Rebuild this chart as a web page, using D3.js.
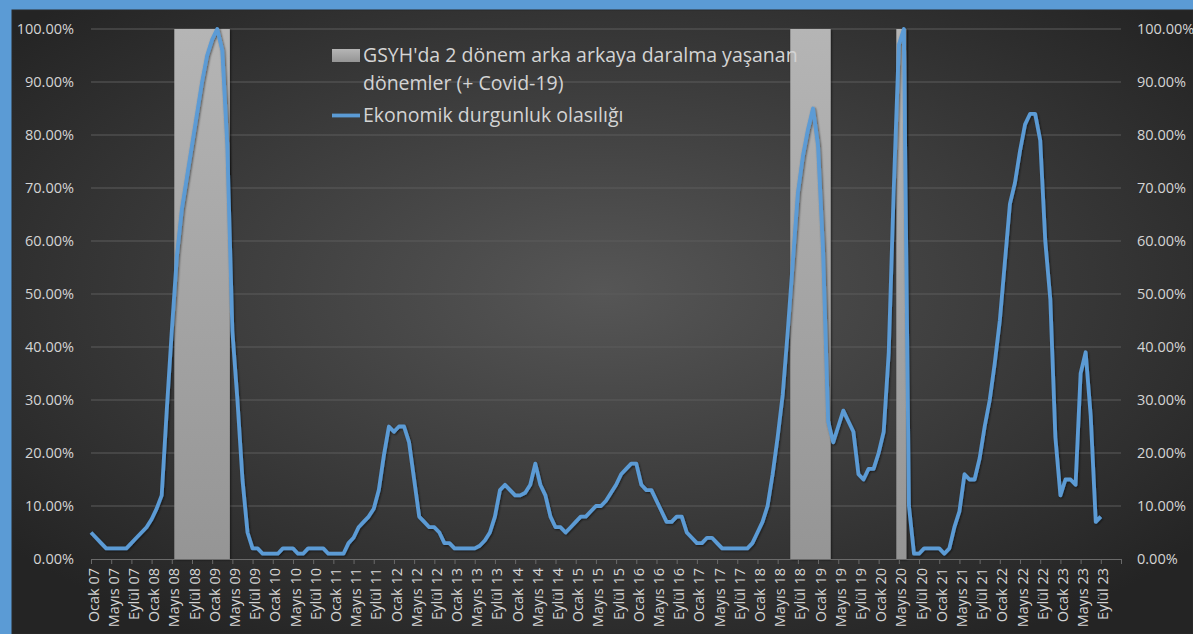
<!DOCTYPE html>
<html>
<head>
<meta charset="utf-8">
<script src="https://cdn.jsdelivr.net/npm/d3@7"></script>
<style>
  html, body { margin: 0; padding: 0; background: #5b9bd5; }
  svg { display: block; }
</style>
</head>
<body>
<div id="chart"></div>
<script>
// month names used for the category axis
const monthNames = ["Ocak", "Şubat", "Mart", "Nisan", "Mayıs", "Haziran",
  "Temmuz", "Ağustos", "Eylül", "Ekim", "Kasım", "Aralık"];
const firstYear = 2007;
const lastYear = 2023;

// recession probability, monthly from Ocak 07 to Eylül 23 (percent)
const probability = [
  5, 4, 3, 2, 2, 2, 2, 2, 3, 4,
  5, 6, 7.5, 9.5, 12, 28, 43, 57, 66, 72,
  78, 84, 90, 95, 98, 100, 96, 78, 43, 30,
  15, 5, 2, 2, 1, 1, 1, 1, 2, 2,
  2, 1, 1, 2, 2, 2, 2, 1, 1, 1,
  1, 3, 4, 6, 7, 8, 9.5, 13, 19.5, 25,
  24, 25, 25, 22, 15, 8, 7, 6, 6, 5,
  3, 3, 2, 2, 2, 2, 2, 2.5, 3.5, 5,
  8, 13, 14, 13, 12, 12, 12.5, 14, 18, 14,
  12, 8, 6, 6, 5, 6, 7, 8, 8, 9,
  10, 10, 11, 12.5, 14, 16, 17, 18, 18, 14,
  13, 13, 11, 9, 7, 7, 8, 8, 5, 4,
  3, 3, 4, 4, 3, 2, 2, 2, 2, 2,
  2, 3, 5, 7, 10, 16, 23, 31, 43, 56,
  69, 76, 81, 85, 78, 58, 26, 22, 25, 28,
  26, 24, 16, 15, 17, 17, 20, 24, 39, 70,
  97, 100, 10, 1, 1, 2, 2, 2, 2, 1,
  2, 6, 9, 16, 15, 15, 19, 25, 30, 37,
  45, 56, 67, 71, 77, 82, 84, 84, 79, 60,
  49, 23, 12, 15, 15, 14, 35, 39, 27, 7,
  8
];

// shaded periods: two quarters of GDP contraction in a row (+ Covid-19)
const recessionStart = ["Haziran 08", "Ağustos 18", "Mayıs 20"];
const recessionEnd = ["Nisan 09", "Mart 19", "Haziran 20"];

const yTicks = [0, 0.1, 0.2, 0.3, 0.4, 0.5, 0.6, 0.7, 0.8, 0.9, 1.0];
const legendLabels = ["GSYH'da 2 dönem arka arkaya daralma yaşanan", "dönemler (+ Covid-19)", "Ekonomik durgunluk olasılığı"];

// categories: every month of the years in the chart
const categories = [];
for (let y = firstYear; y <= lastYear; y++) {
  monthNames.forEach(m => categories.push(m + " " + String(y).slice(2)));
}

const W = 1193, H = 634;
const svg = d3.select("#chart").append("svg")
  .attr("width", W)
  .attr("height", H);

const defs = svg.append("defs");
const bg = defs.append("radialGradient")
  .attr("id", "bg")
  .attr("cx", "50%").attr("cy", "45%").attr("r", "65%");
bg.append("stop").attr("offset", "0%").attr("stop-color", "#565656");
bg.append("stop").attr("offset", "100%").attr("stop-color", "#242424");

const shadeGrad = defs.append("linearGradient")
  .attr("id", "shade")
  .attr("x1", 0).attr("y1", 0).attr("x2", 0).attr("y2", 1);
shadeGrad.append("stop").attr("offset", "0%").attr("stop-color", "#b5b5b5");
shadeGrad.append("stop").attr("offset", "100%").attr("stop-color", "#959595");

const shadow = defs.append("filter")
  .attr("id", "shadow")
  .attr("x", "-20%").attr("y", "-20%").attr("width", "140%").attr("height", "140%");
shadow.append("feDropShadow")
  .attr("dx", 1).attr("dy", 1).attr("stdDeviation", 1.2)
  .attr("flood-color", "#000").attr("flood-opacity", 0.55);

// blue frame + dark chart area
svg.append("rect").attr("width", W).attr("height", H).attr("fill", "#5b9bd5");
svg.append("rect")
  .attr("x", 12).attr("y", 10)
  .attr("width", W - 12).attr("height", H - 10)
  .attr("fill", "url(#bg)")
  .attr("stroke", "#2a2a2a");

const x = d3.scaleLinear()
  .domain([0, 204])
  .range([91, 1121]);
const y = d3.scaleLinear()
  .domain([0, 1])
  .range([559, 29]);

const font = "'Open Sans', sans-serif";
const textColor = "#d4d4d4";

// gridlines
svg.append("g")
  .attr("class", "grid")
  .selectAll("line")
  .data(yTicks.slice(1))
  .enter().append("line")
  .attr("x1", x(0)).attr("x2", x(204))
  .attr("y1", d => y(d)).attr("y2", d => y(d))
  .style("stroke", "#5c5c5c")
  .style("stroke-width", "1px");

// recession shading
const idx = label => categories.indexOf(label);
svg.append("g")
  .attr("class", "shades")
  .selectAll("rect")
  .data(recessionStart.map((s, i) => [idx(s), idx(recessionEnd[i])]))
  .enter().append("rect")
  .attr("x", d => x(d[0] - 0.5))
  .attr("width", d => x(d[1] + 0.5) - x(d[0] - 0.5))
  .attr("y", y(1))
  .attr("height", y(0) - y(1))
  .attr("fill", "url(#shade)")
  .attr("filter", "url(#shadow)");

// left and right value axes
const fmt = d => (d * 100).toFixed(2) + "%";
svg.append("g")
  .attr("class", "yLeft")
  .selectAll("text")
  .data(yTicks)
  .enter().append("text")
  .attr("x", 74)
  .attr("y", d => y(d))
  .attr("dy", "0.35em")
  .attr("text-anchor", "end")
  .style("font-family", font)
  .style("font-size", "14.5px")
  .style("fill", textColor)
  .text(fmt);
svg.append("g")
  .attr("class", "yRight")
  .selectAll("text")
  .data(yTicks)
  .enter().append("text")
  .attr("x", 1137)
  .attr("y", d => y(d))
  .attr("dy", "0.35em")
  .attr("text-anchor", "start")
  .style("font-family", font)
  .style("font-size", "14.5px")
  .style("fill", textColor)
  .text(fmt);

// category axis
const tickIdx = d3.range(0, 205, 4);
const xAxis = d3.axisBottom(x)
  .tickValues(tickIdx)
  .tickSize(5)
  .tickFormat(i => categories[i] || "");
const gx = svg.append("g")
  .attr("class", "xAxis")
  .attr("transform", "translate(0," + y(0) + ")")
  .call(xAxis);
gx.select(".domain").attr("stroke", "#6a6a6a");
gx.selectAll(".tick line").attr("stroke", "#6a6a6a");
gx.selectAll(".tick text")
  .attr("transform", "rotate(-90)")
  .attr("x", -9)
  .attr("y", 2)
  .attr("dy", "0.35em")
  .attr("text-anchor", "end")
  .style("font-family", font)
  .style("font-size", "14.5px")
  .style("fill", textColor);

// probability line
const line = d3.line()
  .x((d, i) => x(i))
  .y(d => y(d / 100));
svg.append("path")
  .datum(probability)
  .attr("d", line)
  .attr("fill", "none")
  .attr("stroke", "#5b9bd5")
  .attr("stroke-width", 3.8)
  .attr("stroke-linejoin", "round")
  .attr("filter", "url(#shadow)");

// legend
const legend = svg.append("g").attr("class", "legend");
legend.append("rect")
  .attr("x", 332).attr("y", 49)
  .attr("width", 28).attr("height", 13)
  .attr("fill", "url(#shade)");
legend.append("line")
  .attr("x1", 332).attr("x2", 360)
  .attr("y1", 115.5).attr("y2", 115.5)
  .attr("stroke", "#5b9bd5")
  .attr("stroke-width", 3.8);
legend.selectAll("text")
  .data(legendLabels)
  .enter().append("text")
  .attr("x", 363)
  .attr("y", (d, i) => [62, 90, 122][i])
  .style("font-family", font)
  .style("font-size", "19.5px")
  .style("fill", textColor)
  .text(d => d);
</script>
</body>
</html>
